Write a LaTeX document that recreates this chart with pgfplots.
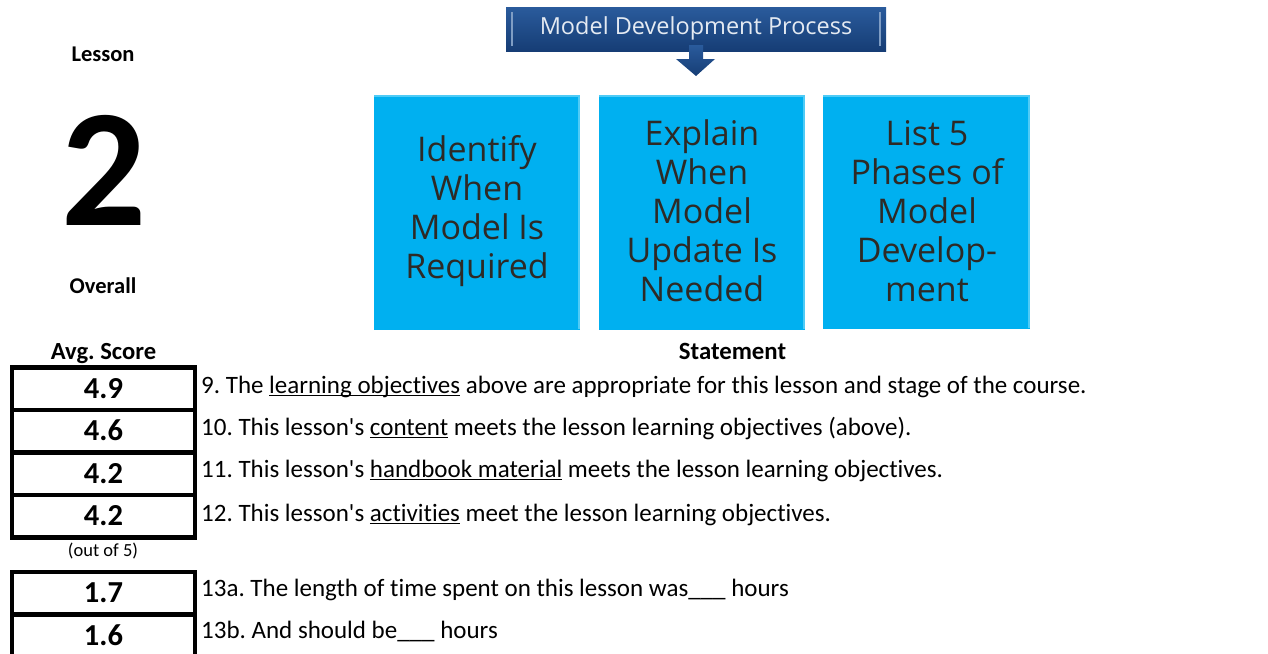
\documentclass[border=0pt]{standalone}
\usepackage{pgfplots}
\pgfplotsset{compat=1.18}
\usepackage{pgfplotstable}
\usepackage{fontspec}
\setmainfont{Carlito}[Ligatures=TeXOff, RawFeature={-liga;-clig;-calt;-dlig}]
\newfontfamily\osans{Open Sans}
\definecolor{boxblue}{HTML}{00B0F0}
\definecolor{boxtop}{HTML}{4FCBF6}
\definecolor{titletop}{HTML}{2A5B9C}
\definecolor{titlebot}{HTML}{163D75}
\definecolor{titletext}{HTML}{E4EAF2}
\definecolor{boxtext}{HTML}{2E2A26}
\newcommand\ul[1]{\setbox0\hbox{#1}\rlap{\rule[-3.4pt]{\wd0}{1.6pt}}\box0\relax}
\frenchspacing

% scores: x position, y centre (pixels from top), value
\pgfplotstableread{
x   y    s
103.5 388.5 4.9
103.5 431   4.6
103.5 473.5 4.2
103.5 516   4.2
103.5 593   1.7
103.5 635.5 1.6
}\scores

\begin{document}
\frenchspacing
\begin{tikzpicture}
\begin{axis}[
  at={(0,0)}, anchor=south west,
  width=1268pt, height=653pt, scale only axis,
  xmin=0, xmax=1268, ymin=0, ymax=653, y dir=reverse,
  hide axis, clip=false,
]
% left header
\node[font=\bfseries\fontsize{22.5}{26}\selectfont, anchor=base] at (axis cs:103,61) {Lesson};
\node[font=\bfseries\fontsize{168}{170}\selectfont, anchor=base] at (axis cs:104,225) {2};
\node[font=\bfseries\fontsize{22.5}{26}\selectfont, anchor=base] at (axis cs:103,293) {Overall};

% title box
\shade[top color=titletop, bottom color=titlebot] (axis cs:506,7) rectangle (axis cs:886,51);
\draw[line width=1.5pt, white!40!titletop] (axis cs:512,12) -- (axis cs:512,46);
\draw[line width=1.5pt, white!40!titletop] (axis cs:880,12) -- (axis cs:880,46);
\node[font=\osans\fontsize{23.5}{26}\selectfont, text=titletext, anchor=base] at (axis cs:696,34) {Model Development Process};
% arrow
\shade[top color=titletop, bottom color=titlebot]
  (axis cs:689,45) -- (axis cs:703,45) -- (axis cs:703,59) -- (axis cs:715,59)
  -- (axis cs:696,76) -- (axis cs:676,59) -- (axis cs:689,59) -- cycle;

% objective boxes
\fill[boxblue] (axis cs:374,95) rectangle (axis cs:580,330);
\draw[line width=2pt, boxtop] (axis cs:374,96) -- (axis cs:580,96);
\draw[line width=1.5pt, boxtop] (axis cs:579,96) -- (axis cs:579,329);
\fill[boxblue] (axis cs:599,95) rectangle (axis cs:805,330);
\draw[line width=2pt, boxtop] (axis cs:599,96) -- (axis cs:805,96);
\draw[line width=1.5pt, boxtop] (axis cs:804,96) -- (axis cs:804,329);
\fill[boxblue] (axis cs:823,95) rectangle (axis cs:1030,329);
\draw[line width=2pt, boxtop] (axis cs:823,96) -- (axis cs:1030,96);
\draw[line width=1.5pt, boxtop] (axis cs:1029,96) -- (axis cs:1029,328);

\node[font=\osans\fontsize{34}{39}\selectfont, text=boxtext, align=center] at (axis cs:477,211)
  {Identify\\When\\Model Is\\Required};
\node[font=\osans\fontsize{34}{39}\selectfont, text=boxtext, align=center] at (axis cs:702,211)
  {Explain\\When\\Model\\Update Is\\Needed};
\node[font=\osans\fontsize{34}{39}\selectfont, text=boxtext, align=center] at (axis cs:927,211)
  {List 5\\Phases of\\Model\\Develop-\\ment};

% column headers
\node[font=\bfseries\fontsize{24.6}{28}\selectfont, anchor=base] at (axis cs:103.5,359) {Avg. Score};
\node[font=\bfseries\fontsize{24.8}{28}\selectfont, anchor=base] at (axis cs:732.5,359) {Statement};

% score boxes
\addplot[only marks, mark=none,
  point meta=explicit symbolic,
  nodes near coords={\pgfplotspointmeta},
  nodes near coords align=center,
  every node near coord/.style={draw=black, line width=4.5pt, minimum width=183pt,
     minimum height=42.5pt, inner sep=0pt, anchor=center,
     font=\bfseries\fontsize{30.5}{32}\selectfont, text height=19.5pt, text depth=0pt},
] table[x=x, y=y, meta=s] {\scores};

\node[font=\fontsize{18.5}{21}\selectfont, anchor=base] at (axis cs:103,556) {(out of 5)};

% statements
\node[anchor=base west, font=\fontsize{25}{28}\selectfont, inner sep=0pt] at (axis cs:201,393) {9. The \ul{learning objectives} above are appropriate for this lesson and stage of the course.};
\node[anchor=base west, font=\fontsize{25}{28}\selectfont, inner sep=0pt] at (axis cs:201,435) {10. This lesson's \ul{content} meets the lesson learning objectives (above).};
\node[anchor=base west, font=\fontsize{25}{28}\selectfont, inner sep=0pt] at (axis cs:201,477) {11. This lesson's \ul{handbook material} meets the lesson learning objectives.};
\node[anchor=base west, font=\fontsize{25}{28}\selectfont, inner sep=0pt] at (axis cs:201,521) {12. This lesson's \ul{activities} meet the lesson learning objectives.};
\node[anchor=base west, font=\fontsize{25}{28}\selectfont, inner sep=0pt] at (axis cs:201,596) {13a. The length of time spent on this lesson was\_\_\_ hours};
\node[anchor=base west, font=\fontsize{25}{28}\selectfont, inner sep=0pt] at (axis cs:201,638) {13b. And should be\_\_\_ hours};
\end{axis}
\pgfresetboundingbox
\path (0,0) rectangle (1268pt,653pt);
\end{tikzpicture}
\end{document}
